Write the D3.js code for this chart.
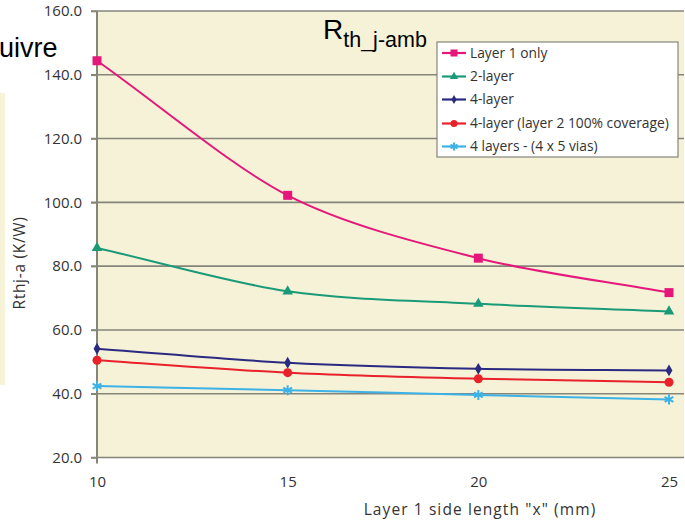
<!DOCTYPE html>
<html><head><meta charset="utf-8">
<script src="https://cdn.jsdelivr.net/npm/d3@7"></script>
<style>body{margin:0;background:#fff;overflow:hidden}svg{display:block}</style>
</head><body>
<svg id="c" width="685" height="523"></svg>
<script>
const xValues = [10, 15, 20, 25];
const seriesNames = ["Layer 1 only", "2-layer", "4-layer", "4-layer (layer 2 100% coverage)", "4 layers - (4 x 5 vias)"];
const layer1Only = [144.4, 102.2, 82.5, 71.7];
const twoLayer = [85.7, 72.1, 68.2, 65.8];
const fourLayer = [54.1, 49.7, 47.8, 47.3];
const fourLayerFull = [50.5, 46.6, 44.7, 43.6];
const fourLayerVias = [42.4, 41.1, 39.6, 38.2];
const yTicks = [20, 40, 60, 80, 100, 120, 140, 160];
const xTicks = [10, 15, 20, 25];

const colors = ["#e5177b", "#1b9a78", "#2a2a80", "#e8212b", "#3cb2e6"];
const markers = ["square", "triangle", "diamond", "circle", "asterisk"];
const allSeries = [layer1Only, twoLayer, fourLayer, fourLayerFull, fourLayerVias];

const svg = d3.select("#c");
const L = 97, R = 684, T = 11, B = 457.5;
const x = d3.scaleLinear().domain([10, 25]).range([L, 669]);
const y = d3.scaleLinear().domain([20, 160]).range([B, T]);
const txt = "#333";
const gridC = "#86857c";

// Excel-like smoothing curve
function excelSmooth(context) {
  let pts = [];
  return {
    areaStart() {}, areaEnd() {},
    lineStart() { pts = []; },
    point(px, py) { pts.push([+px, +py]); },
    lineEnd() {
      const n = pts.length;
      if (!n) return;
      context.moveTo(pts[0][0], pts[0][1]);
      if (n === 2) { context.lineTo(pts[1][0], pts[1][1]); return; }
      const m = pts.map((q, i) => {
        const a = pts[Math.max(0, i - 1)], b = pts[Math.min(n - 1, i + 1)];
        const f = (i === 0 || i === n - 1) ? 1 : 0.45;
        return [(b[0] - a[0]) * f, (b[1] - a[1]) * f];
      });
      for (let i = 0; i < n - 1; i++) {
        context.bezierCurveTo(
          pts[i][0] + m[i][0] / 3, pts[i][1] + m[i][1] / 3,
          pts[i + 1][0] - m[i + 1][0] / 3, pts[i + 1][1] - m[i + 1][1] / 3,
          pts[i + 1][0], pts[i + 1][1]);
      }
    }
  };
}

// left slide fragment
svg.append("rect").attr("x", 0).attr("y", 93).attr("width", 5).attr("height", 292).attr("fill", "#f6f3d8");

// plot background
svg.append("rect").attr("x", L).attr("y", T).attr("width", R - L).attr("height", B - T).attr("fill", "#f5f2d7");

// grid
svg.append("g").selectAll("line").data(yTicks).join("line")
  .attr("x1", L - 6).attr("x2", R).attr("y1", d => y(d)).attr("y2", d => y(d))
  .attr("stroke", gridC).attr("stroke-width", 1.6);

// y axis
const yAxis = svg.append("g").attr("transform", `translate(${L},0)`)
  .call(d3.axisLeft(y).tickValues(yTicks).tickFormat(d3.format(".1f")).tickSize(6).tickPadding(9));
yAxis.select(".domain").attr("stroke", gridC).attr("stroke-width", 2).attr("d", `M0,${B+6}V${T}`);
yAxis.selectAll(".tick line").attr("stroke", gridC).attr("stroke-width", 1.6);
yAxis.selectAll("text").attr("font-family", "Open Sans").attr("font-size", 15).attr("fill", txt);

// x axis
const xAxis = svg.append("g").attr("transform", `translate(0,${B})`)
  .call(d3.axisBottom(x).tickValues(xTicks).tickSize(0).tickPadding(19));
xAxis.select(".domain").remove();
xAxis.selectAll("text").attr("font-family", "Open Sans").attr("font-size", 15).attr("fill", txt);

// axis titles
svg.append("text").attr("x", 480).attr("y", 515).attr("text-anchor", "middle")
  .attr("font-family", "Open Sans").attr("font-size", 15.5).attr("letter-spacing", 1.1).attr("fill", txt)
  .text('Layer 1 side length "x" (mm)');
svg.append("text").attr("transform", "translate(25,263) rotate(-90)").attr("text-anchor", "middle")
  .attr("font-family", "Open Sans").attr("font-size", 15.5).attr("letter-spacing", 0.7).attr("fill", txt)
  .text("Rthj-a (K/W)");

// lines
const line = d3.line().x((d, i) => x(xValues[i])).y(d => y(d)).curve(excelSmooth);

function marker(g, type, color, s) {
  if (type === "square") g.append("rect").attr("x", -s/2).attr("y", -s/2).attr("width", s).attr("height", s).attr("fill", color);
  else if (type === "triangle") g.append("path").attr("d", d3.symbol(d3.symbolTriangle, s*s*0.6)()).attr("fill", color);
  else if (type === "diamond") g.append("path").attr("d", d3.symbol(d3.symbolDiamond, s*s*0.5)()).attr("fill", color);
  else if (type === "circle") g.append("circle").attr("r", s/2).attr("fill", color);
  else if (type === "asterisk") {
    const r = s/2;
    g.append("path").attr("d", `M0,${-r}V${r}M${-r*0.87},${-r*0.5}L${r*0.87},${r*0.5}M${-r*0.87},${r*0.5}L${r*0.87},${-r*0.5}`)
      .attr("stroke", color).attr("stroke-width", 2).attr("fill", "none");
  }
}
const sizes = [9, 9, 9, 9, 10];

allSeries.forEach((vals, k) => {
  svg.append("path").datum(vals).attr("d", line).attr("fill", "none")
    .attr("stroke", colors[k]).attr("stroke-width", 2);
  vals.forEach((v, i) => {
    const g = svg.append("g").attr("transform", `translate(${x(xValues[i])},${y(v)})`);
    marker(g, markers[k], colors[k], sizes[k]);
  });
});

// legend
const lg = svg.append("g");
lg.append("rect").attr("x", 437).attr("y", 42).attr("width", 241).attr("height", 115)
  .attr("fill", "#fff").attr("stroke", gridC).attr("stroke-width", 1.2);
const ly = [53, 76.5, 99.5, 123.5, 146.5];
seriesNames.forEach((n, k) => {
  lg.append("line").attr("x1", 442).attr("x2", 466).attr("y1", ly[k]).attr("y2", ly[k])
    .attr("stroke", colors[k]).attr("stroke-width", 2.2);
  const g = lg.append("g").attr("transform", `translate(454,${ly[k]})`);
  marker(g, markers[k], colors[k], [7, 7, 7, 7, 8][k]);
  lg.append("text").attr("x", 470).attr("y", ly[k]).attr("dy", "0.36em")
    .attr("font-family", "Open Sans").attr("font-size", 13.8).attr("fill", txt).text(n);
});

// title
const t = svg.append("text").attr("x", 323).attr("y", 39).attr("font-family", "Liberation Sans, Arial").attr("fill", "#000");
t.append("tspan").attr("font-size", 28).text("R");
t.append("tspan").attr("font-size", 21.5).attr("dy", 8).text("th_j-amb");

// fragment text
svg.append("text").attr("x", -1).attr("y", 57).attr("font-family", "Liberation Sans, Arial").attr("font-size", 27).attr("fill", "#000").text("uivre");
</script>
</body></html>
